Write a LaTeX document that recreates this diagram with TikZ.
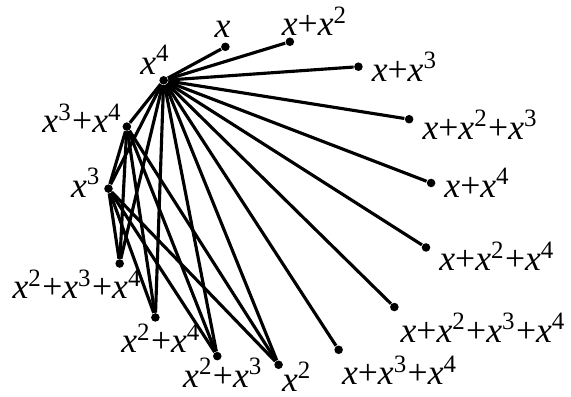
\documentclass[tikz,border=0pt]{standalone}
\usepackage{fontspec}
\setmainfont{Liberation Serif}
\usepackage{tikz}

\newcommand{\vx}{\textit{x}}
\newcommand{\pw}[1]{\textit{x}\textsuperscript{#1}}

\begin{document}
\begin{tikzpicture}[
      mydot/.style={
         circle,
         fill=black,
         inner sep=0pt,
         minimum size=3pt},
      myedge/.style={line width=1.1pt},
      mylabel/.style={font=\fontsize{12.5}{15}\selectfont, inner sep=2pt}
      ]
      \useasboundingbox (-3.33,-2.39) rectangle (3.71,2.50);

    \foreach \n/\a/\txt/\p/\dx/\dy in {% name/angle/text/label position/shifts
      x1/106/\vx/above/-1pt/1pt,
      x12/83/\vx+\pw{2}/above right/-5pt/0pt,
      x13/57/\vx+\pw{3}/right/2.5pt/0pt,
      x123/31/\vx+\pw{2}+\pw{3}/right/2.5pt/-2pt,
      x14/7/\vx+\pw{4}/right/2.5pt/0pt,
      x124/-16/\vx+\pw{2}+\pw{4}/right/2.5pt/-3pt,
      x1234/-40/\vx+\pw{2}+\pw{3}+\pw{4}/below right/0pt/0pt,
      x134/-65/\vx+\pw{3}+\pw{4}/below right/-1pt/0pt,
      x2/-87/\pw{2}/below right/-1pt/3pt,
      x23/-109/\pw{2}+\pw{3}/below/2pt/1.5pt,
      x24/-135/\pw{2}+\pw{4}/below/2pt/0pt,
      x234/-158/\pw{2}+\pw{3}+\pw{4}/below left/10pt/0pt,
      x3/175/\pw{3}/left/-0.5pt/2pt,
      x34/152/\pw{3}+\pw{4}/left/0.5pt/3pt,
      x4/131/\pw{4}/above/-3pt/0pt
      }{
       \node[mydot] (\n) at (\a:2cm) {};
       \node[mylabel,\p,xshift=\dx,yshift=\dy] (l\n) at (\n) {\txt};
      }

    % x^4 meets every other vertex
    \foreach \j in {x1,x12,x13,x123,x14,x124,x1234,x134,x2,x23,x24,x234,x3,x34}
       \draw [myedge] (x4) -- (\j);

    \draw [myedge] (x34) -- (x3);
    \foreach \i in {x3,x34}
      \foreach \j in {x234,x24,x23,x2}
        \draw [myedge] (\i) -- (\j);

    \end{tikzpicture}
\end{document}
